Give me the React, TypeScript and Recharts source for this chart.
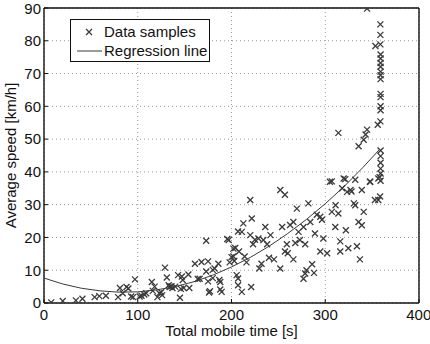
import { CartesianGrid, Label, Legend, ReferenceLine, Scatter, ScatterChart, XAxis, YAxis } from "recharts";

const FONT = "'Liberation Sans', Arial, Helvetica, sans-serif";
const INK = "#111111";
const MARK = "#3a3a3a";
const GRID = "#9a9a9a";

const X_TICKS = [0, 100, 200, 300, 400];
const Y_TICKS = [0, 10, 20, 30, 40, 50, 60, 70, 80, 90];

// [total mobile time (s), average speed (km/h)]
const SAMPLES: [number, number][] = [
  [7.7, 0.2], [20, 0.6], [34, 0.8], [41, 1.3], [54, 1.8], [59, 2.1], [66, 2.2], [79, 1.8],
  [81, 4.6], [88, 4.9], [90, 4.4], [97, 7.2], [84, 3.0], [93, 2.0], [95, 1.8], [102, 2.0],
  [104, 2.2], [107, 2.6], [109, 3.0], [115, 6.4], [116, 3.7], [118, 5.0], [121, 1.8], [123, 3.0],
  [125, 3.3], [126, 2.4], [129, 10.8], [131, 7.8], [133, 5.4], [134, 4.9], [136, 5.1], [137, 4.6],
  [140, 5.0], [143, 8.5], [145, 1.6], [146, 4.3], [147, 8.1], [148, 7.0], [149, 4.6], [154, 8.7],
  [155, 4.6], [161, 12.0], [164, 7.3], [166, 7.4], [168, 12.5], [173, 19.0], [175, 12.7], [176, 3.2],
  [173, 9.6], [175, 6.6], [177, 3.6], [180, 10.1], [180, 7.6], [182, 10.5], [186, 12.0], [187, 7.0],
  [188, 6.4], [188, 4.1], [189.5, 3.4], [195.5, 19.5], [197, 19.2], [198, 12.4], [200, 14.0], [202, 16.6],
  [202, 14.2], [203, 12.8], [204, 16.8], [205.5, 8.5], [207, 7.5], [207, 5.4], [207, 21.8], [208, 15.7],
  [211, 3.4], [211, 21.7], [212.6, 24.3], [214, 14.2], [216, 12.4], [220, 31.4], [220, 20.7], [221, 4.9],
  [221.6, 25.8], [223, 17.9], [225, 19.3], [228.7, 19.7], [229.7, 10.5], [232, 12.0], [234, 19.2], [236, 23.2],
  [238, 17.9], [240, 13.8], [241.6, 20.7], [245.3, 13.3], [252, 34.5], [252, 10.5], [257, 33.0], [254, 23.2],
  [257, 15.7], [260, 15.2], [259, 17.9], [262.5, 23.8], [266, 24.7], [268, 18.3], [266, 13.3], [269.7, 28.8],
  [271.5, 21.7], [273, 19.2], [276.8, 7.4], [278.6, 9.0], [280, 10.0], [276.8, 23.2], [278.6, 17.9], [282, 30.4],
  [284, 24.7], [286, 11.8], [288, 9.2], [289, 21.2], [291, 26.9], [294.7, 26.3], [294.7, 15.7], [296.5, 25.4],
  [298, 19.7], [302, 15.2], [305, 37.0], [307, 27.8], [311, 29.8], [310.7, 23.2], [314, 27.3], [316, 18.8],
  [316, 15.7], [318, 35.0], [319.6, 38.0], [322, 22.2], [324.6, 16.7], [323.3, 33.9], [326.9, 34.5], [330.5, 30.4],
  [332, 29.8], [333.8, 17.3], [335.5, 24.7], [339, 23.7], [337, 13.3], [341, 27.8], [339, 34.5], [347.6, 37.0],
  [353, 31.4], [356.6, 31.4], [356.6, 38.0], [307, 37.1], [314, 51.9], [321.4, 37.8], [332, 37.6], [328, 34.0],
  [348, 37.0], [335.6, 47.8], [341, 49.8], [344.6, 52.9], [343, 51.4], [356, 54.4], [358.8, 55.4], [359, 63.8],
  [359, 62.8], [359, 60.0], [359, 58.8], [344.6, 89.8], [358.8, 85.0], [358.8, 81.8], [358.8, 78.9], [353.5, 78.4],
  [359, 75.8], [359, 74.6], [359, 73.2], [359, 72.1], [359, 70.6], [359, 69.5], [359, 68.3], [359, 46.5],
  [359, 44.8], [359, 42.8], [359, 41.0], [359, 39.5], [358, 38.4], [359, 37.3], [358.5, 32.5],
];

// regression curve
const REG_X = [0, 20, 40, 60, 80, 100, 120, 140, 160, 180, 200, 220, 240, 260, 280, 300, 320, 340, 358];
const REG_Y = [7.6, 5.8, 4.5, 3.7, 3.3, 3.4, 4.0, 5.0, 6.5, 8.5, 11.0, 13.9, 17.3, 21.2, 25.5, 30.3, 35.5, 41.3, 46.9];

const sampleData = SAMPLES.map(([t, v]) => ({ t, v }));
const regData = REG_X.map((t, i) => ({ t, v: REG_Y[i] }));

function Cross(props: any) {
  const { cx, cy } = props;
  if (cx == null || cy == null) return <g />;
  const s = 3;
  return (
    <path
      d={`M${cx - s},${cy - s}L${cx + s},${cy + s}M${cx - s},${cy + s}L${cx + s},${cy - s}`}
      stroke={MARK}
      strokeWidth={1.3}
      fill="none"
    />
  );
}

function LegendBox() {
  return (
    <div
      style={{
        width: 138,
        height: 41,
        border: `1px solid ${INK}`,
        background: "#fff",
        fontFamily: FONT,
        fontSize: 15,
        color: INK,
        position: "relative",
      }}
    >
      <svg width={40} height={41} style={{ position: "absolute", left: 0, top: 0 }}>
        <path d="M15,9L21,15M15,15L21,9" stroke={MARK} strokeWidth={1.3} fill="none" />
        <line x1={6} x2={31} y1={31} y2={31} stroke={MARK} strokeWidth={1} />
      </svg>
      <div style={{ position: "absolute", left: 33, top: 3, lineHeight: "18px", whiteSpace: "nowrap" }}>Data samples</div>
      <div style={{ position: "absolute", left: 33, top: 22, lineHeight: "18px", whiteSpace: "nowrap" }}>Regression line</div>
    </div>
  );
}

const tickStyle = { fill: INK, fontSize: 15, fontFamily: FONT };

export default function App() {
  return (
    <div style={{ position: "absolute", left: 0, top: 0, width: 430, height: 344, background: "#fff" }}>
      <ScatterChart width={430} height={344} margin={{ top: 8, right: 11, bottom: 0, left: 0 }}>
        <CartesianGrid stroke={GRID} strokeDasharray="1 3" />
        <XAxis
          type="number"
          dataKey="t"
          domain={[0, 400]}
          ticks={X_TICKS}
          allowDataOverflow
          height={41}
          tickSize={-4}
          tickMargin={10}
          axisLine={{ stroke: INK, strokeWidth: 1.4 }}
          tickLine={{ stroke: INK }}
          tick={tickStyle}
        >
          <Label value="Total mobile time [s]" position="insideBottom" offset={8} fill={INK} fontSize={15} fontFamily={FONT} />
        </XAxis>
        <YAxis
          type="number"
          dataKey="v"
          domain={[0, 90]}
          ticks={Y_TICKS}
          allowDataOverflow
          width={44}
          tickSize={-4}
          tickMargin={7}
          axisLine={{ stroke: INK, strokeWidth: 1.4 }}
          tickLine={{ stroke: INK }}
          tick={tickStyle}
        >
          <Label
            value="Average speed [km/h]"
            angle={-90}
            position="insideLeft"
            offset={11}
            fill={INK}
            fontSize={15}
            fontFamily={FONT}
            style={{ textAnchor: "middle" }}
          />
        </YAxis>
        {/* top and right edges of the plot box */}
        <ReferenceLine y={90} stroke={INK} strokeWidth={1.4} ifOverflow="visible" />
        <ReferenceLine x={400} stroke={INK} strokeWidth={1.4} ifOverflow="visible" />
        <Legend
          layout="horizontal"
          verticalAlign="middle"
          align="center"
          wrapperStyle={{ left: 70, top: 19, width: 140, height: 43 }}
          content={() => <LegendBox />}
        />
        <Scatter name="Data samples" data={sampleData} shape={Cross} isAnimationActive={false} />
        <Scatter
          name="Regression line"
          data={regData}
          line={{ stroke: MARK, strokeWidth: 1 }}
          lineType="joint"
          shape={() => <g />}
          isAnimationActive={false}
        />
      </ScatterChart>
    </div>
  );
}
